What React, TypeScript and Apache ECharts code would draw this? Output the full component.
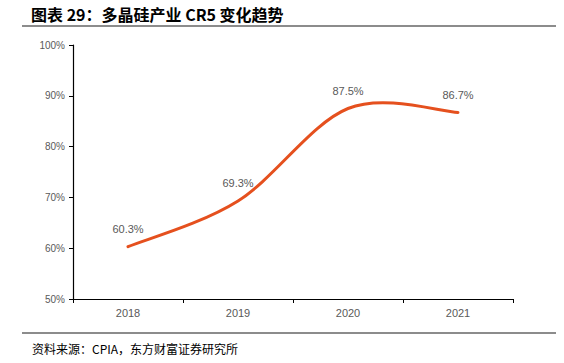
import React, { useEffect, useRef } from "react";
import * as echarts from "echarts";

const categories = ["2018", "2019", "2020", "2021"];
const cr5Values = [60.3, 69.3, 87.5, 86.7];
const yTicks = [50, 60, 70, 80, 90, 100];
const titleText = "图表 29：多晶硅产业 CR5 变化趋势";
const sourceText = "资料来源：CPIA，东方财富证券研究所";

const LINE_COLOR = "#E5501E";
const LABEL_COLOR = "#595959";

export default function App() {
  const ref = useRef<HTMLDivElement>(null);
  useEffect(() => {
    if (!ref.current) return;
    const chart = echarts.init(ref.current, null, { renderer: "svg" });

    const renderItem = (params: any, api: any) => {
      const idx = params.dataIndex;
      const children: any[] = [];
      if (idx === 0) {
        const pts = cr5Values.map((v, i) => api.coord([i, v]));
        const n = pts.length;
        const P = (i: number) => pts[Math.max(0, Math.min(n - 1, i))];
        const k = 1 / 6;
        let d = `M${pts[0][0]},${pts[0][1]}`;
        for (let i = 0; i < n - 1; i++) {
          const p0 = P(i - 1), p1 = P(i), p2 = P(i + 1), p3 = P(i + 2);
          const c1x = p1[0] + (p2[0] - p0[0]) * k;
          const c1y = p1[1] + (p2[1] - p0[1]) * k;
          const c2x = p2[0] - (p3[0] - p1[0]) * k;
          const c2y = p2[1] - (p3[1] - p1[1]) * k;
          d += ` C${c1x},${c1y} ${c2x},${c2y} ${p2[0]},${p2[1]}`;
        }
        children.push({
          type: "path",
          shape: { pathData: d },
          style: { fill: "none", stroke: LINE_COLOR, lineWidth: 3, lineCap: "round" },
        });
      }
      const c = api.coord([idx, cr5Values[idx]]);
      children.push({
        type: "text",
        x: c[0],
        y: c[1] - 18,
        style: {
          text: cr5Values[idx].toFixed(1) + "%",
          fill: LABEL_COLOR,
          font: "11px sans-serif",
          align: "center",
          verticalAlign: "middle",
        },
      });
      return { type: "group", children };
    };

    chart.setOption({
      animation: false,
      backgroundColor: "#ffffff",
      grid: { left: 73, right: 51, top: 45, bottom: 64, containLabel: false },
      graphic: [
        {
          type: "text",
          x: 31,
          y: 14,
          style: {
            text: titleText,
            font: "bold 16px 'Noto Sans CJK SC', sans-serif",
            fill: "#000",
            verticalAlign: "middle",
          },
        },
        {
          type: "line",
          shape: { x1: 22, y1: 26, x2: 556, y2: 26 },
          style: { stroke: "#8C8C8C", lineWidth: 2 },
        },
        {
          type: "line",
          shape: { x1: 22, y1: 333, x2: 556, y2: 333 },
          style: { stroke: "#8C8C8C", lineWidth: 2 },
        },
        {
          type: "text",
          x: 32,
          y: 348,
          style: {
            text: sourceText,
            font: "12px 'Noto Sans CJK SC', sans-serif",
            fill: "#000",
            verticalAlign: "middle",
          },
        },
      ],
      xAxis: {
        type: "category",
        data: categories,
        boundaryGap: true,
        axisLine: { lineStyle: { color: "#000", width: 1.2 } },
        axisTick: { show: true, length: 4, lineStyle: { color: "#000" } },
        axisLabel: { color: LABEL_COLOR, fontSize: 11, margin: 8, fontFamily: "sans-serif" },
      },
      yAxis: {
        type: "value",
        min: yTicks[0],
        max: yTicks[yTicks.length - 1],
        interval: 10,
        axisLine: { show: true, lineStyle: { color: "#000", width: 1.2 } },
        axisTick: { show: true, length: 4, lineStyle: { color: "#000" } },
        splitLine: { show: false },
        axisLabel: {
          color: LABEL_COLOR,
          fontSize: 10,
          margin: 8,
          fontFamily: "sans-serif",
          formatter: (v: number) => v + "%",
        },
      },
      series: [
        {
          type: "custom",
          renderItem,
          data: cr5Values.map((v, i) => [i, v]),
          encode: { x: 0, y: 1 },
          clip: false,
        },
      ],
    });
    return () => chart.dispose();
  }, []);
  return (
    <div
      ref={ref}
      style={{ position: "absolute", left: 0, top: 0, width: 564, height: 363 }}
    />
  );
}
